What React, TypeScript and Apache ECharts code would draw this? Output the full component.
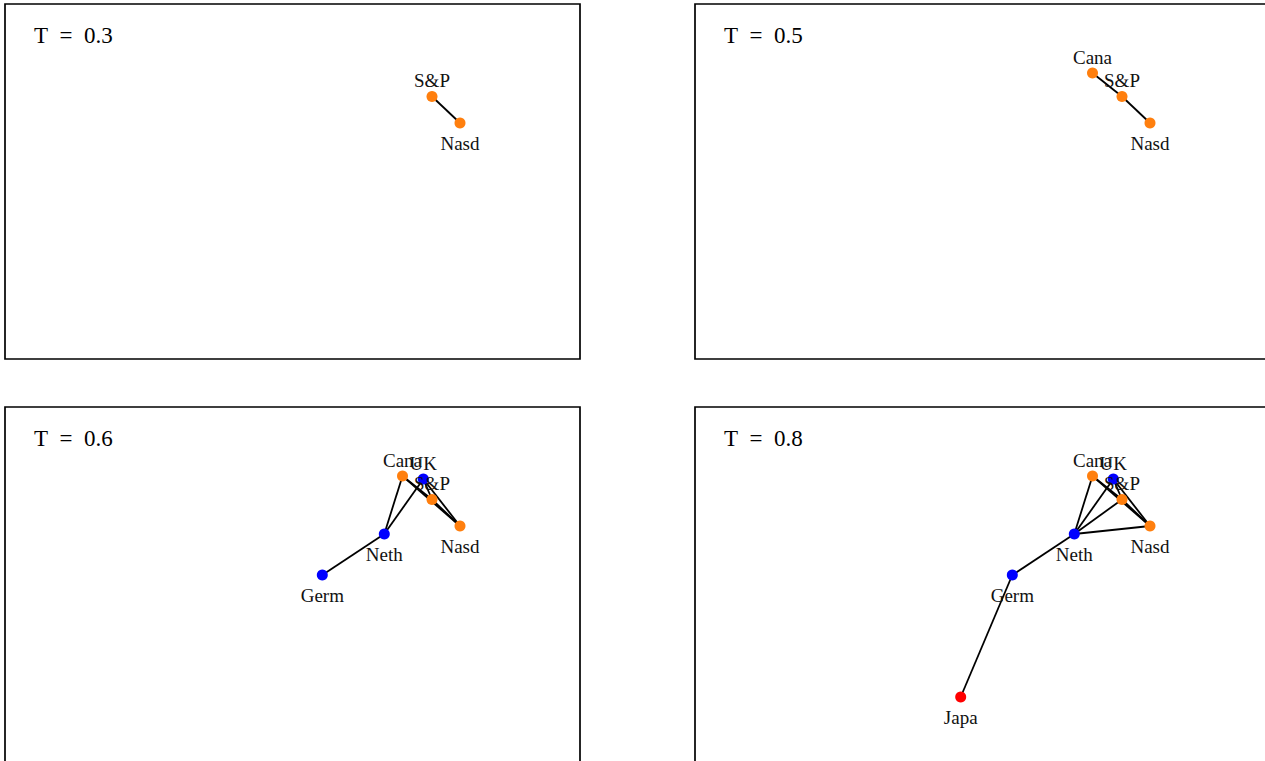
import React, { useEffect, useRef } from "react";
import * as echarts from "echarts";

const nodeNames = ["S&P", "Nasd", "Cana", "UK", "Neth", "Germ", "Japa"];
const nodeX = [427, 455, 397.5, 418.3, 379.3, 317.3, 265.7];
const nodeY = [92.5, 119, 69, 72, 127, 168, 290];
const nodeColors = ["#ff7f0e", "#ff7f0e", "#ff7f0e", "#0000ff", "#0000ff", "#0000ff", "#ff0000"];
const labelSides = ["top", "bottom", "top", "top", "bottom", "bottom", "bottom"];

const thresholds = ["0.3", "0.5", "0.6", "0.8"];
const panelNodes = [
  ["S&P", "Nasd"],
  ["S&P", "Nasd", "Cana"],
  ["S&P", "Nasd", "Cana", "UK", "Neth", "Germ"],
  ["S&P", "Nasd", "Cana", "UK", "Neth", "Germ", "Japa"],
];
const panelEdges = [
  [["S&P", "Nasd"]],
  [["S&P", "Nasd"], ["Cana", "S&P"]],
  [
    ["S&P", "Nasd"], ["Cana", "S&P"], ["Cana", "Nasd"], ["UK", "S&P"], ["UK", "Nasd"],
    ["Cana", "Neth"], ["UK", "Neth"], ["Neth", "Germ"],
  ],
  [
    ["S&P", "Nasd"], ["Cana", "S&P"], ["Cana", "Nasd"], ["UK", "S&P"], ["UK", "Nasd"],
    ["Cana", "Neth"], ["UK", "Neth"], ["Neth", "Germ"], ["Neth", "S&P"], ["Neth", "Nasd"],
    ["Germ", "Japa"],
  ],
];

const FONT = "'Liberation Serif', 'DejaVu Serif', serif";

export default function App() {
  const ref = useRef<HTMLDivElement>(null);
  useEffect(() => {
    if (!ref.current) return;
    const chart = echarts.init(ref.current, null, { renderer: "svg" });
    const panelLeft = [5, 695, 5, 695];
    const panelTop = [4, 4, 407, 407];
    const pw = 575;
    const ph = 355;
    const grid = panelLeft.map((l, i) => ({
      left: l,
      top: panelTop[i],
      width: pw,
      height: ph,
      show: true,
      borderColor: "#000",
      borderWidth: 1.7,
      backgroundColor: "transparent",
      containLabel: false,
    }));
    const xAxis = grid.map((_, i) => ({
      type: "value",
      gridIndex: i,
      min: 0,
      max: pw,
      show: false,
    }));
    const yAxis = grid.map((_, i) => ({
      type: "value",
      gridIndex: i,
      min: 0,
      max: ph,
      inverse: true,
      show: false,
    }));
    const title = thresholds.map((t, i) => ({
      text: "T\u2002=\u2002" + t,
      left: panelLeft[i] + 29,
      top: panelTop[i] + 20,
      padding: 0,
      textStyle: { fontFamily: FONT, fontSize: 23, fontWeight: "normal", color: "#000" },
    }));
    const series = thresholds.map((_, i) => ({
      type: "graph",
      coordinateSystem: "cartesian2d",
      xAxisIndex: i,
      yAxisIndex: i,
      symbol: "circle",
      symbolSize: 11,
      silent: true,
      data: panelNodes[i].map((n) => {
        const k = nodeNames.indexOf(n);
        const side = labelSides[k];
        return {
          name: n,
          value: [nodeX[k], nodeY[k]],
          itemStyle: { color: nodeColors[k] },
          label: {
            show: true,
            position: side,
            distance: side === "top" ? 1 : 5,
            formatter: n,
            fontFamily: FONT,
            fontSize: 19,
            color: "#111",
          },
        };
      }),
      links: panelEdges[i].map(([s, t]) => ({ source: s, target: t })),
      lineStyle: { color: "#000", width: 1.8, opacity: 1, curveness: 0 },
      z: 2,
    }));
    chart.setOption({
      animation: false,
      backgroundColor: "#fff",
      title,
      grid,
      xAxis,
      yAxis,
      series,
    });
    return () => chart.dispose();
  }, []);
  return (
    <div
      style={{
        position: "absolute",
        left: 0,
        top: 0,
        width: 1265,
        height: 761,
        overflow: "hidden",
      }}
    >
      <div ref={ref} style={{ width: 1290, height: 780 }} />
    </div>
  );
}
